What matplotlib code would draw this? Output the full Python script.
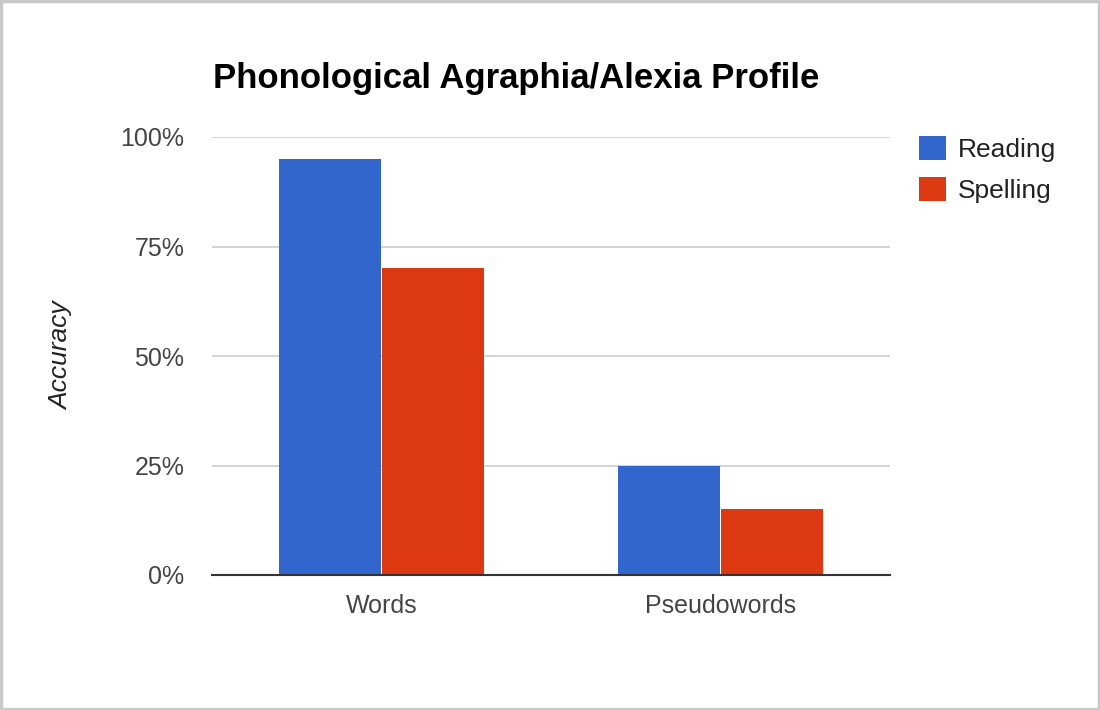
import matplotlib
matplotlib.use("Agg")
import matplotlib.pyplot as plt
from matplotlib.patches import Rectangle
import numpy as np

categories = ["Words", "Pseudowords"]
series = ["Reading", "Spelling"]
reading = [0.95, 0.25]
spelling = [0.70, 0.15]
yticks = [0, 0.25, 0.5, 0.75, 1.0]
ytick_labels = ["0%", "25%", "50%", "75%", "100%"]

plt.rcParams["font.family"] = ["Liberation Sans", "DejaVu Sans"]

fig = plt.figure(figsize=(11, 7.1), dpi=100)
ax = fig.add_axes([212 / 1100, 1 - 575 / 710, 678 / 1100, 438 / 710])

x = np.arange(len(categories))
w = 0.30
ax.bar(x - 0.152, reading, w, color="#3366CC", label=series[0], zorder=3)
ax.bar(x + 0.152, spelling, w, color="#DC3912", label=series[1], zorder=3)

ax.set_xlim(-0.5, 1.5)
ax.set_ylim(0, 1)
ax.set_yticks(yticks)
ax.set_yticklabels(ytick_labels)
ax.set_xticks(x)
ax.set_xticklabels(categories)
ax.tick_params(axis="both", length=0, labelsize=18, colors="#444444")
ax.tick_params(axis="y", pad=20)
ax.tick_params(axis="x", pad=14)
ax.grid(axis="y", color="#cccccc", linewidth=1.2, zorder=0)
for s in ["top", "right", "left"]:
    ax.spines[s].set_visible(False)
ax.spines["bottom"].set_color("#333333")
ax.spines["bottom"].set_linewidth(1.5)
ax.spines["bottom"].set_zorder(4)

ax.set_ylabel("Accuracy", fontsize=19, style="italic", color="#222222", labelpad=34)

fig.text(213 / 1100, 1 - 88 / 710, "Phonological Agraphia/Alexia Profile",
         fontsize=25, fontweight="bold", color="#000000", ha="left", va="baseline")

fig.legend(loc="upper left", bbox_to_anchor=(895 / 1100, 1 - 112 / 710),
           frameon=False, fontsize=19, handlelength=1.05, handleheight=1.05,
           handletextpad=0.45, labelspacing=0.55, labelcolor="#222222")

fig.patches.append(Rectangle((0.001, 0.001), 0.998, 0.997, transform=fig.transFigure,
                             fill=False, edgecolor="#c8c8c8", linewidth=2.5))

fig.savefig("out.png", dpi=100)
